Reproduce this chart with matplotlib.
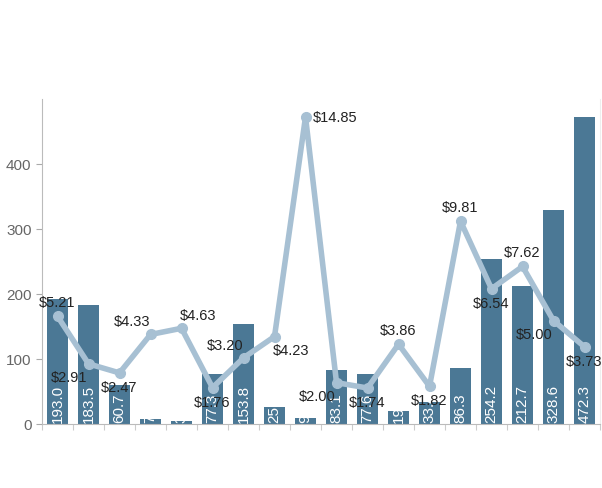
import numpy as np
import matplotlib.pyplot as plt

plt.rcParams['font.family'] = ['Liberation Sans', 'DejaVu Sans']

# bar values (left axis)
volumes = [193.0, 183.5, 60.7, 7.5, 3.9, 77.3, 153.8, 25.4, 9.1,
           83.1, 77.6, 19.5, 33.4, 86.3, 254.2, 212.7, 328.6, 472.3]
# price line (scaled onto the bar axis)
prices = [5.21, 2.91, 2.47, 4.33, 4.63, 1.76, 3.20, 4.23, 14.85,
          2.00, 1.74, 3.86, 1.82, 9.81, 6.54, 7.62, 5.00, 3.73]
# where each price label sits relative to its point
label_pos = ['n', 'sw', 's', 'nw', 'ne', 's', 'nw', 'se', 'e',
             'sw', 's', 'n', 's', 'n', 's', 'n', 'sw', 's']

bar_color = '#4b7895'
line_color = '#a7c0d3'

fig = plt.figure(figsize=(6.02, 4.89), dpi=100)
ax = fig.add_axes([0.0698, 0.1309, 0.9269, 0.6646])

x = np.arange(len(volumes))
bars = ax.bar(x, volumes, width=0.7, color=bar_color, zorder=2)

for b, v in zip(bars, volumes):
    t = ax.text(b.get_x() + b.get_width() / 2, 3, '%.1f' % v, rotation=90,
                ha='center', va='bottom', color='white', fontsize=11, zorder=3)
    t.set_clip_path(b)

scale = max(volumes) / max(prices)
py = np.array(prices) * scale
ax.plot(x, py, color=line_color, lw=4, marker='o', ms=7, zorder=4,
        solid_joinstyle='round')

offs = {'n': (0, 14, 'center'), 's': (0, -14, 'center'),
        'nw': (-18, 13, 'center'), 'ne': (17, 13, 'center'),
        'sw': (-19, -13, 'center'), 'se': (17, -13, 'center'),
        'e': (7, 0, 'left')}
for xi, yi, p, pos in zip(x, py, prices, label_pos):
    dx, dy, ha = offs[pos]
    ax.annotate('$%.2f' % p, (xi, yi), xytext=(dx, dy), textcoords='offset pixels',
                ha=ha, va='center', fontsize=10.5, color='#222222', zorder=5)

ax.set_xlim(-0.5, len(volumes) - 0.5)
ax.set_ylim(0, 500)
ax.set_yticks([0, 100, 200, 300, 400])
ax.set_xticks(np.arange(len(volumes) + 1) - 0.5)
ax.set_xticklabels([])
ax.tick_params(axis='y', colors='#aaaaaa', labelcolor='#666666', labelsize=11, length=4)
ax.tick_params(axis='x', colors='#cccccc', length=4)
for s in ['left', 'bottom']:
    ax.spines[s].set_color('#bbbbbb')
ax.spines['top'].set_visible(False)
ax.spines['right'].set_color('#eeeeee')

fig.savefig('out.png', dpi=100)
